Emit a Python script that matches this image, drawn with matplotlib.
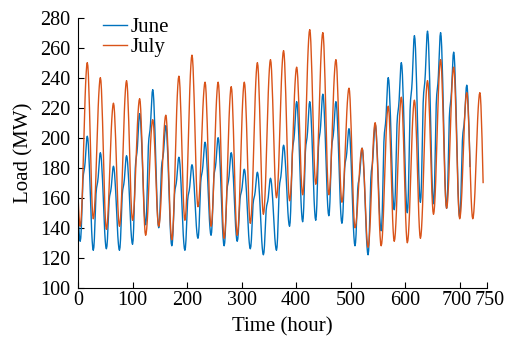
import numpy as np
import matplotlib
matplotlib.use('Agg')
import matplotlib.pyplot as plt
import matplotlib.transforms as mtransforms

plt.rcParams['font.family'] = ['Liberation Serif', 'DejaVu Serif']

# daily peak (around 17:00) and trough (around 04:00), MW
june_peaks = [201, 190, 181, 188, 216, 232, 208, 187, 182, 197,
              200, 190, 179, 177, 173, 195, 224, 224, 229, 224,
              206, 193, 209, 240, 250, 268, 271, 270, 257, 235]
june_troughs = [131, 125, 126, 125, 129, 142, 140, 128, 125, 133,
                135, 128, 131, 126, 122, 125, 141, 144, 145, 148,
                143, 128, 122, 138, 152, 150, 157, 156, 153, 147, 140]
june_prev_peak = 203

july_peaks = [250, 240, 223, 238, 226, 212, 215, 241, 255, 237,
              237, 234, 237, 250, 252, 258, 247, 272, 270, 252,
              233, 193, 210, 221, 227, 225, 238, 252, 247, 230, 230]
july_troughs = [141, 146, 139, 141, 145, 135, 141, 132, 145, 154,
                141, 133, 135, 143, 149, 160, 158, 162, 169, 162,
                157, 140, 127, 128, 131, 130, 133, 149, 153, 146, 146, 125]
july_prev_peak = 213

x_ticks = [0, 100, 200, 300, 400, 500, 600, 700, 750]
y_ticks = [100, 120, 140, 160, 180, 200, 220, 240, 260, 280]

# typical daily shape (0 = trough, 1 = peak), hours 0..23
july_shape = [0.29, 0.17, 0.08, 0.02, 0.0, 0.015, 0.057, 0.125, 0.21, 0.32, 0.44, 0.56,
              0.68, 0.79, 0.875, 0.94, 0.985, 1.0, 0.98, 0.92, 0.82, 0.71, 0.57, 0.43]
june_shape = [0.29, 0.17, 0.08, 0.02, 0.0, 0.03, 0.12, 0.28, 0.45, 0.58, 0.64, 0.67,
              0.70, 0.75, 0.83, 0.92, 0.98, 1.0, 0.98, 0.92, 0.82, 0.71, 0.57, 0.43]


def hourly(peaks, troughs, prev_peak, shape):
    vals = []
    for d in range(len(peaks)):
        for h in range(24):
            s = shape[h]
            if h < 4:
                pk = peaks[d - 1] if d > 0 else prev_peak
                vals.append(troughs[d] + (pk - troughs[d]) * s)
            elif h <= 17:
                vals.append(troughs[d] + (peaks[d] - troughs[d]) * s)
            else:
                vals.append(troughs[d + 1] + (peaks[d] - troughs[d + 1]) * s)
    return np.array(vals)


june = hourly(june_peaks, june_troughs, june_prev_peak, june_shape)
july = hourly(july_peaks, july_troughs, july_prev_peak, july_shape)

fig = plt.figure(figsize=(5.15, 3.39), dpi=100)
ax = fig.add_axes([0.1515, 0.151, 0.794, 0.797])

ax.plot(np.arange(len(june)), june, color='#0072BD', lw=1.0, label='June')
ax.plot(np.arange(len(july)), july, color='#D95319', lw=1.0, label='July')

ax.set_xlim(0, 750)
ax.set_ylim(100, 280)
ax.set_xticks(x_ticks, labels=[str(t) for t in x_ticks])
ax.set_yticks(y_ticks, labels=[str(t) for t in y_ticks])
ax.spines['top'].set_visible(False)
ax.spines['right'].set_visible(False)
ax.tick_params(direction='in', labelsize=14.5, length=4, width=0.8)
ax.tick_params(axis='x', pad=2)
ax.tick_params(axis='y', pad=5.5)

# the last two x labels sit a little apart, as in the original
xl = ax.get_xticklabels()
xl[-2].set_transform(xl[-2].get_transform() +
                     mtransforms.ScaledTranslation(-0.03, 0, fig.dpi_scale_trans))
xl[-1].set_transform(xl[-1].get_transform() +
                     mtransforms.ScaledTranslation(0.03, 0, fig.dpi_scale_trans))

ax.set_xlabel('Time (hour)', fontsize=15)
ax.set_ylabel('Load (MW)', fontsize=15)
ax.xaxis.set_label_coords(0.5, -0.11)
ax.yaxis.set_label_coords(-0.11, 0.5)

ax.legend(loc='upper left', frameon=False, fontsize=15, handlelength=1.15,
          handletextpad=0.2, labelspacing=0.0, borderaxespad=0.0,
          bbox_to_anchor=(0.04, 1.03))

fig.savefig('out.png', dpi=100)
